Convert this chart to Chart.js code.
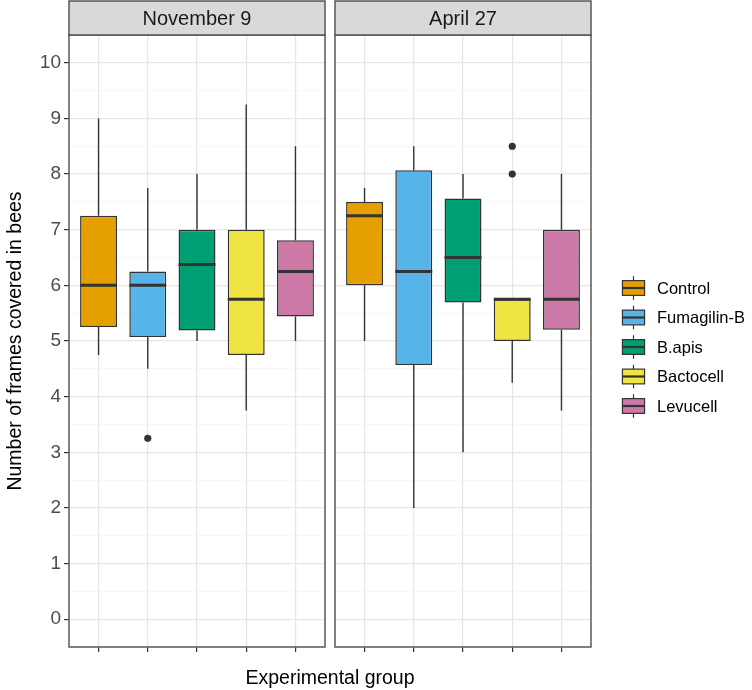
<!DOCTYPE html>
<html>
<head>
<meta charset="utf-8">
<title>Frames covered in bees</title>
<script src="https://cdn.jsdelivr.net/npm/chart.js@4.4.1/dist/chart.umd.min.js"></script>
<style>
  html, body { margin: 0; padding: 0; background: #fff; }
  #wrap { position: relative; width: 752px; height: 690px; overflow: hidden; }
  #wrap canvas { position: absolute; top: 0; }
  #xtitle {
    position: absolute; left: 0; width: 660px; top: 666px;
    text-align: center; color: #000;
    font: 19.5px 'Liberation Sans', Arial, sans-serif;
  }
</style>
</head>
<body>
<div id="wrap">
  <canvas id="novChart" width="330" height="690" style="left:0"></canvas>
  <canvas id="aprChart" width="422" height="690" style="left:330px"></canvas>
  <div id="xtitle">Experimental group</div>
</div>
<script>
// Groups and colours
const groups = ['Control', 'Fumagilin-B', 'B.apis', 'Bactocell', 'Levucell'];
const groupColors = ['#E69F00', '#56B4E9', '#009E73', '#F0E442', '#CC79A7'];
const groupPos = [1, 2, 3, 4, 5];

// November 9
const novLower = [4.75, 4.5, 5.0, 3.75, 5.0];
const novQ1 = [5.25, 5.07, 5.19, 4.75, 5.44];
const novMedian = [6.0, 6.0, 6.375, 5.75, 6.25];
const novQ3 = [7.25, 6.25, 7.0, 7.0, 6.81];
const novUpper = [9.0, 7.75, 8.0, 9.25, 8.5];
const novOutGroup = [2];
const novOutValue = [3.25];

// April 27
const aprLower = [5.0, 2.0, 3.0, 4.25, 3.75];
const aprQ1 = [6.0, 4.57, 5.69, 5.0, 5.2];
const aprMedian = [7.25, 6.25, 6.5, 5.75, 5.75];
const aprQ3 = [7.5, 8.07, 7.56, 5.75, 7.0];
const aprUpper = [7.75, 8.5, 8.0, 5.75, 8.0];
const aprOutGroup = [4, 4];
const aprOutValue = [8.0, 8.5];

const FONT = "'Liberation Sans', Arial, sans-serif";
const DARK = '#333333';
const BORDER = '#4d4d4d';
Chart.defaults.font.family = FONT;

const isMajor = v => Number.isInteger(v) && v >= 0 && v <= 10;

// whiskers, medians, panel border and strip
function boxPlugin(stats, stripLabel, drawLegend) {
    return {
        id: 'boxExtras',
        beforeDatasetsDraw(chart) {
            const ctx = chart.ctx;
            const y = chart.scales.y;
            const bars = chart.getDatasetMeta(0).data;
            ctx.save();
            ctx.strokeStyle = DARK;
            ctx.lineWidth = 1.4;
            bars.forEach((bar, i) => {
                const { x } = bar.getProps(['x'], true);
                ctx.beginPath();
                ctx.moveTo(x, y.getPixelForValue(stats.upper[i]));
                ctx.lineTo(x, y.getPixelForValue(stats.q3[i]));
                ctx.moveTo(x, y.getPixelForValue(stats.q1[i]));
                ctx.lineTo(x, y.getPixelForValue(stats.lower[i]));
                ctx.stroke();
            });
            ctx.restore();
        },
        afterDatasetsDraw(chart) {
            const ctx = chart.ctx;
            const y = chart.scales.y;
            const bars = chart.getDatasetMeta(0).data;
            ctx.save();
            ctx.strokeStyle = DARK;
            ctx.lineWidth = 3;
            bars.forEach((bar, i) => {
                const { x, width } = bar.getProps(['x', 'width'], true);
                const py = y.getPixelForValue(stats.median[i]);
                ctx.beginPath();
                ctx.moveTo(x - width / 2, py);
                ctx.lineTo(x + width / 2, py);
                ctx.stroke();
            });
            ctx.restore();
        },
        afterDraw(chart) {
            const ctx = chart.ctx;
            const a = chart.chartArea;
            ctx.save();
            // panel border
            ctx.strokeStyle = BORDER;
            ctx.lineWidth = 1.4;
            ctx.strokeRect(a.left, a.top, a.right - a.left, a.bottom - a.top);
            // strip
            ctx.fillStyle = '#D9D9D9';
            ctx.fillRect(a.left, 1, a.right - a.left, a.top - 1);
            ctx.strokeRect(a.left, 1, a.right - a.left, a.top - 1);
            ctx.fillStyle = '#1A1A1A';
            ctx.font = '20px ' + FONT;
            ctx.textAlign = 'center';
            ctx.textBaseline = 'middle';
            ctx.fillText(stripLabel, (a.left + a.right) / 2, (a.top + 1) / 2 + 1);
            ctx.restore();
            if (drawLegend) drawLegend(chart);
        }
    };
}

function drawBoxLegend(chart) {
    const ctx = chart.ctx;
    const cx = 303.5, y0 = 288, step = 29.5, key = 29.5;
    ctx.save();
    groups.forEach((g, i) => {
        const cy = y0 + i * step;
        ctx.strokeStyle = DARK;
        ctx.lineWidth = 1.2;
        ctx.beginPath();
        ctx.moveTo(cx, cy - key * 0.4);
        ctx.lineTo(cx, cy - key * 0.25);
        ctx.moveTo(cx, cy + key * 0.25);
        ctx.lineTo(cx, cy + key * 0.4);
        ctx.stroke();
        ctx.fillStyle = groupColors[i];
        ctx.fillRect(cx - key * 0.375, cy - key * 0.25, key * 0.75, key * 0.5);
        ctx.strokeRect(cx - key * 0.375, cy - key * 0.25, key * 0.75, key * 0.5);
        ctx.lineWidth = 2.2;
        ctx.beginPath();
        ctx.moveTo(cx - key * 0.375, cy);
        ctx.lineTo(cx + key * 0.375, cy);
        ctx.stroke();
        ctx.fillStyle = '#000';
        ctx.font = '16.5px ' + FONT;
        ctx.textAlign = 'left';
        ctx.textBaseline = 'middle';
        ctx.fillText(g, cx + 23.5, cy + 1);
    });
    ctx.restore();
}

function makePanel(canvasId, stripLabel, stats, outGroup, outValue, isLeft) {
    const ctx = document.getElementById(canvasId);
    return new Chart(ctx, {
        type: 'bar',
        data: {
            datasets: [{
                data: groupPos.map((x, i) => ({ x: x, y: [stats.q1[i], stats.q3[i]] })),
                backgroundColor: groupColors,
                borderColor: DARK,
                borderWidth: 1.5,
                borderSkipped: false,
                barPercentage: 0.75,
                categoryPercentage: 1.0
            }, {
                type: 'scatter',
                data: outGroup.map((g, i) => ({ x: g, y: outValue[i] })),
                backgroundColor: DARK,
                borderWidth: 0,
                pointRadius: 3.6
            }]
        },
        options: {
            responsive: false,
            animation: false,
            layout: {
                padding: isLeft
                    ? { top: 35, right: 5, left: 0, bottom: 0 }
                    : { top: 35, right: 161, left: 5, bottom: 0 }
            },
            plugins: {
                legend: { display: false },
                tooltip: { enabled: false }
            },
            scales: {
                x: {
                    type: 'linear',
                    min: 0.4,
                    max: 5.6,
                    offset: false,
                    afterBuildTicks: s => { s.ticks = groupPos.map(v => ({ value: v })); },
                    afterFit: s => { s.height = 43; },
                    ticks: { display: false },
                    grid: {
                        offset: false,
                        color: '#e6e6e6',
                        lineWidth: 1.2,
                        tickColor: DARK,
                        tickWidth: 1.2,
                        tickLength: 5
                    },
                    border: { display: false }
                },
                y: {
                    min: -0.5,
                    max: 10.5,
                    afterFit: s => { s.width = isLeft ? 69 : 0; },
                    ticks: {
                        display: isLeft,
                        stepSize: 0.5,
                        autoSkip: false,
                        padding: 3,
                        color: '#4D4D4D',
                        font: { size: 19 },
                        callback: v => isMajor(v) ? String(v) : ''
                    },
                    grid: {
                        color: c => isMajor(c.tick.value) ? '#e6e6e6' : '#f2f2f2',
                        lineWidth: c => isMajor(c.tick.value) ? 1.2 : 0.6,
                        drawTicks: isLeft,
                        tickColor: c => isMajor(c.tick.value) ? DARK : 'rgba(0,0,0,0)',
                        tickWidth: 1.2,
                        tickLength: 5
                    },
                    border: { display: false },
                    title: {
                        display: isLeft,
                        text: 'Number of frames covered in bees',
                        color: '#000',
                        font: { size: 19.5 },
                        padding: { top: 4, bottom: 0 }
                    }
                }
            }
        },
        plugins: [boxPlugin(stats, stripLabel, isLeft ? null : drawBoxLegend)]
    });
}

makePanel('novChart', 'November 9',
    { lower: novLower, q1: novQ1, median: novMedian, q3: novQ3, upper: novUpper },
    novOutGroup, novOutValue, true);

makePanel('aprChart', 'April 27',
    { lower: aprLower, q1: aprQ1, median: aprMedian, q3: aprQ3, upper: aprUpper },
    aprOutGroup, aprOutValue, false);
</script>
</body>
</html>
